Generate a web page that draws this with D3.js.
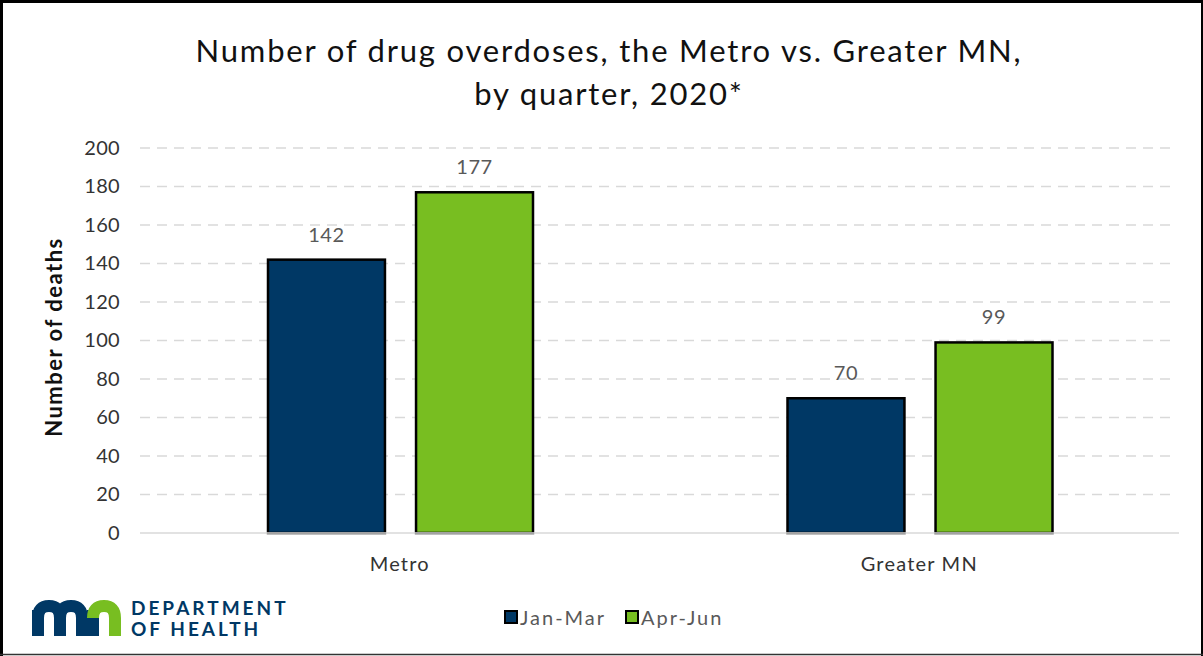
<!DOCTYPE html>
<html>
<head>
<meta charset="utf-8">
<script src="https://cdn.jsdelivr.net/npm/d3@7"></script>
<style>
  body { margin: 0; background: #fff; }
  svg { display: block; font-family: Lato, "Open Sans", sans-serif; }
</style>
</head>
<body>
<div id="graph"></div>
<script>
const categories = ["Metro", "Greater MN"];
const series = ["Jan-Mar", "Apr-Jun"];
const janMar = [142, 70];
const aprJun = [177, 99];
const yTicks = [0, 20, 40, 60, 80, 100, 120, 140, 160, 180, 200];
const colors = ["#003865", "#78be21"];

const W = 1203, H = 656;
const plot = {left: 140, right: 1179, top: 148, bottom: 533};

const svg = d3.select("#graph")
    .append("svg")
    .attr("width", W)
    .attr("height", H);

svg.append("rect").attr("width", W).attr("height", H).attr("fill", "#fff");

// frame
svg.append("line").attr("x1", 0).attr("x2", W).attr("y1", 1.5).attr("y2", 1.5)
    .attr("stroke", "#000").attr("stroke-width", 3);
svg.append("line").attr("x1", 1.5).attr("x2", 1.5).attr("y1", 0).attr("y2", H)
    .attr("stroke", "#000").attr("stroke-width", 3);
svg.append("line").attr("x1", W - 1).attr("x2", W - 1).attr("y1", 0).attr("y2", H)
    .attr("stroke", "#000").attr("stroke-width", 2);
svg.append("line").attr("x1", 0).attr("x2", W).attr("y1", H - 1.5).attr("y2", H - 1.5)
    .attr("stroke", "#333").attr("stroke-width", 1.5);

// title
const title = svg.append("text")
    .attr("text-anchor", "middle")
    .attr("font-size", 31)
    .attr("letter-spacing", 1.8)
    .attr("fill", "#111");
title.append("tspan").attr("x", 609).attr("y", 62)
    .text("Number of drug overdoses, the Metro vs. Greater MN,");
title.append("tspan").attr("x", 609).attr("y", 105)
    .text("by quarter, 2020*");

const x0 = d3.scaleBand()
    .domain(categories)
    .range([plot.left, plot.right])
    .padding(0);
const x1 = d3.scaleBand()
    .domain(series)
    .range([128, 393])
    .paddingInner(0.21)
    .paddingOuter(0);
const y = d3.scaleLinear()
    .domain([0, 200])
    .range([plot.bottom, plot.top]);

// gridlines
svg.append("g")
    .selectAll("line")
    .data(yTicks.filter(d => d > 0))
    .enter().append("line")
    .attr("x1", plot.left)
    .attr("x2", plot.right - 5)
    .attr("y1", d => y(d))
    .attr("y2", d => y(d))
    .attr("stroke", "#d9d9d9")
    .attr("stroke-width", 1.5)
    .attr("stroke-dasharray", "10,7");

// y axis labels
const yAxis = svg.append("g")
    .attr("transform", "translate(" + plot.left + ",0)")
    .call(d3.axisLeft(y).tickValues(yTicks).tickSize(0).tickPadding(20));
yAxis.select(".domain").remove();
yAxis.selectAll("text")
    .attr("font-family", "Lato, sans-serif")
    .attr("font-size", 20)
    .attr("letter-spacing", 0.3)
    .attr("fill", "#333");

// bars
const rows = categories.map((c, i) => ({cat: c, vals: [janMar[i], aprJun[i]]}));
const groups = svg.selectAll(".grp")
    .data(rows)
    .enter().append("g")
    .attr("class", "grp")
    .attr("transform", d => "translate(" + x0(d.cat) + ",0)");

groups.selectAll("rect")
    .data(d => d.vals.map((v, j) => ({s: series[j], v: v, j: j})))
    .enter().append("rect")
    .attr("x", d => x1(d.s))
    .attr("width", x1.bandwidth())
    .attr("y", d => y(d.v))
    .attr("height", d => y(0) - y(d.v))
    .attr("fill", d => colors[d.j])
    .attr("stroke", "#000")
    .attr("stroke-width", 2.5);

groups.selectAll(".lbl")
    .data(d => d.vals.map((v, j) => ({s: series[j], v: v})))
    .enter().append("text")
    .attr("class", "lbl")
    .attr("x", d => x1(d.s) + x1.bandwidth() / 2)
    .attr("y", d => y(d.v) - 18)
    .attr("text-anchor", "middle")
    .attr("font-size", 20)
    .attr("letter-spacing", 0.6)
    .attr("fill", "#595959")
    .text(d => d.v);

// baseline
svg.append("line")
    .attr("x1", plot.left).attr("x2", plot.right)
    .attr("y1", y(0)).attr("y2", y(0))
    .attr("stroke", "#d9d9d9").attr("stroke-width", 1.5);

// x axis labels
const xAxis = svg.append("g")
    .attr("transform", "translate(0," + plot.bottom + ")")
    .call(d3.axisBottom(x0).tickSize(0).tickPadding(24));
xAxis.select(".domain").remove();
xAxis.selectAll("text")
    .attr("font-family", "Lato, sans-serif")
    .attr("font-size", 20)
    .attr("letter-spacing", 1.2)
    .attr("fill", "#333");

// y axis title
svg.append("text")
    .attr("transform", "translate(62,337) rotate(-90)")
    .attr("text-anchor", "middle")
    .attr("font-size", 22)
    .attr("font-weight", "bold")
    .attr("letter-spacing", 1.5)
    .attr("fill", "#111")
    .text("Number of deaths");

// legend
const legend = svg.append("g").attr("transform", "translate(504,610)");
const legX = [0, 121];
series.forEach((s, i) => {
    const g = legend.append("g").attr("transform", "translate(" + legX[i] + ",0)");
    g.append("rect").attr("x", 1).attr("y", 1).attr("width", 12).attr("height", 12)
        .attr("fill", colors[i]).attr("stroke", "#000").attr("stroke-width", 2);
    g.append("text").attr("x", 16).attr("y", 15)
        .attr("font-size", 20).attr("letter-spacing", 2)
        .attr("fill", "#595959").text(s);
});

// logo
const logo = svg.append("g").attr("transform", "translate(32,600)");
logo.append("path")
    .attr("d", "M6,36 V10 M6,18 Q6,6 17,6 Q28,6 28,18 V36 M28,18 Q28,6 39,6 Q50,6 50,18 V36 M61,36 V10")
    .attr("fill", "none").attr("stroke", "#003865").attr("stroke-width", 12);
logo.append("path")
    .attr("d", "M61,18 Q61,6 72,6 Q83,6 83,18 V36")
    .attr("fill", "none").attr("stroke", "#78be21").attr("stroke-width", 12);
logo.append("text").attr("x", 99).attr("y", 15)
    .attr("font-size", 19).attr("font-weight", "bold").attr("fill", "#003865")
    .attr("letter-spacing", 3).text("DEPARTMENT");
logo.append("text").attr("x", 99).attr("y", 36)
    .attr("font-size", 19).attr("font-weight", "bold").attr("fill", "#003865")
    .attr("letter-spacing", 3).text("OF HEALTH");
</script>
</body>
</html>
